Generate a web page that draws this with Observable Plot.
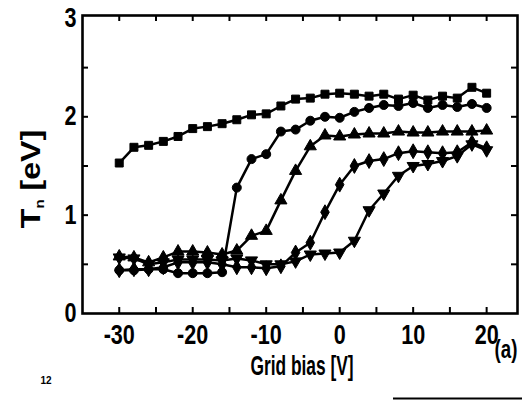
<!DOCTYPE html>
<html><head><meta charset="utf-8">
<script src="https://cdn.jsdelivr.net/npm/d3@7"></script>
<script src="https://cdn.jsdelivr.net/npm/@observablehq/plot@0.6"></script>
<style>
html,body{margin:0;padding:0;background:#fff;}
#chart{position:relative;width:522px;height:400px;overflow:hidden;}
</style></head><body><div id="chart"></div>
<script>
// Grid bias [V] sample positions
const gridBias = [-30,-28,-26,-24,-22,-20,-18,-16,-14,-12,-10,-8,-6,-4,-2,0,2,4,6,8,10,12,14,16,18,20];
// T_n [eV] per series
const squareSeries   = [1.53,1.69,1.71,1.75,1.80,1.88,1.90,1.93,1.97,2.02,2.03,2.11,2.18,2.19,2.23,2.24,2.23,2.21,2.23,2.18,2.22,2.17,2.21,2.19,2.30,2.24];
const circleSeries   = [0.44,0.44,0.45,0.45,0.41,0.41,0.41,0.42,1.28,1.57,1.62,1.85,1.87,1.96,2.00,1.99,2.05,2.09,2.12,2.11,2.14,2.09,2.12,2.10,2.13,2.09];
const triUpSeries    = [0.58,0.57,0.52,0.57,0.63,0.63,0.62,0.60,0.64,0.79,0.84,1.15,1.45,1.70,1.81,1.80,1.82,1.83,1.83,1.85,1.84,1.84,1.85,1.85,1.85,1.86];
const diamondSeries  = [0.44,0.45,0.45,0.47,0.52,0.52,0.52,0.50,0.47,0.47,0.46,0.48,0.62,0.72,1.03,1.31,1.50,1.55,1.57,1.63,1.65,1.64,1.63,1.64,1.74,1.68];
const triDownSeries  = [0.57,0.56,0.50,0.52,0.55,0.55,0.55,0.54,0.56,0.54,0.50,0.50,0.53,0.60,0.61,0.62,0.74,1.05,1.22,1.40,1.50,1.52,1.55,1.60,1.72,1.66];

const xTickLabels = [-30,-20,-10,0,10,20];
const xMinorTicks = [-30,-25,-20,-15,-10,-5,0,5,10,15,20];
const yTickLabels = [0,1,2,3];
const yMinorTicks = [0.5,1,1.5,2,2.5];

const W = 522, H = 400;
const mL = 82, mR = 5, mT = 15, mB = 87;
const frameW = W - mL - mR, frameH = H - mT - mB;
const FONT = "'Liberation Sans',Arial,sans-serif";

const triDown = {
  draw(ctx, size) {
    const y = -Math.sqrt(size / (Math.sqrt(3) * 3));
    ctx.moveTo(0, -y * 2);
    ctx.lineTo(Math.sqrt(3) * y, y);
    ctx.lineTo(-Math.sqrt(3) * y, y);
    ctx.closePath();
  }
};

const series = [
  {values: squareSeries, symbol: "square"},
  {values: circleSeries, symbol: "circle"},
  {values: triUpSeries, symbol: "triangle"},
  {values: diamondSeries, symbol: d3.symbolDiamond},
  {values: triDownSeries, symbol: triDown}
];

const marks = [];
for (const s of series) {
  const rows = gridBias.map((x, i) => ({x, y: s.values[i]}));
  marks.push(Plot.line(rows, {x: "x", y: "y", stroke: "black", strokeWidth: 2.5}));
  marks.push(Plot.dot(rows, {x: "x", y: "y", symbol: s.symbol, r: 4.5, fill: "black", stroke: "black", strokeWidth: 1}));
}

const chart = Plot.plot({
  width: W, height: H,
  marginLeft: mL, marginRight: mR, marginTop: mT, marginBottom: mB,
  style: {fontFamily: FONT, fontWeight: "bold", background: "white", color: "black"},
  x: {domain: [-35, 24.2]},
  y: {domain: [0, 3.03]},
  marks: [
    Plot.frame({stroke: "black", strokeWidth: 2.6}),
    Plot.tickX(xMinorTicks, {x: d => d, insetTop: frameH - 6, stroke: "black", strokeWidth: 2}),
    Plot.tickX(xMinorTicks, {x: d => d, insetBottom: frameH - 6, stroke: "black", strokeWidth: 2}),
    Plot.tickY(yMinorTicks, {y: d => d, insetRight: frameW - 6, stroke: "black", strokeWidth: 2}),
    Plot.tickY(yMinorTicks, {y: d => d, insetLeft: frameW - 6, stroke: "black", strokeWidth: 2}),
    ...marks,
    Plot.axisX({ticks: xTickLabels, tickSize: 0, tickPadding: 11, tickFormat: d => String(d), fontSize: 27, fontWeight: "bold", label: null}),
    Plot.axisY({ticks: yTickLabels, tickSize: 0, tickPadding: 6, tickFormat: d => String(d), fontSize: 27, fontWeight: "bold", label: null})
  ]
});

const svg = d3.select(chart);
// condense the tick labels like the original narrow bold typeface
svg.selectAll("g[aria-label$='tick label'] text").each(function() {
  const t = this.getAttribute("transform") || "";
  this.setAttribute("transform", t + " scale(0.8,1)");
});
const addText = (x, y, size, sx, rot) => {
  return svg.append("text")
    .attr("text-anchor", "middle")
    .attr("font-family", FONT).attr("font-weight", "bold")
    .attr("font-size", size).attr("fill", "black")
    .attr("transform", `translate(${x},${y})` + (rot ? ` rotate(${rot})` : "") + ` scale(${sx},1)`);
};
addText(302, 375, 28, 0.62).text("Grid bias [V]");
const yl = addText(40, 179, 28, 1.15, -90);
yl.append("tspan").text("T");
yl.append("tspan").attr("font-size", 13).attr("dy", 4).text("n");
yl.append("tspan").attr("dy", -4).text(" [eV]");
addText(506, 358, 26, 0.72).text("(a)");
addText(46, 384, 10, 1).text("12");
svg.append("line").attr("x1", 393).attr("x2", 522).attr("y1", 398.5).attr("y2", 398.5)
  .attr("stroke", "black").attr("stroke-width", 2);

document.getElementById("chart").appendChild(chart);
</script></body></html>
